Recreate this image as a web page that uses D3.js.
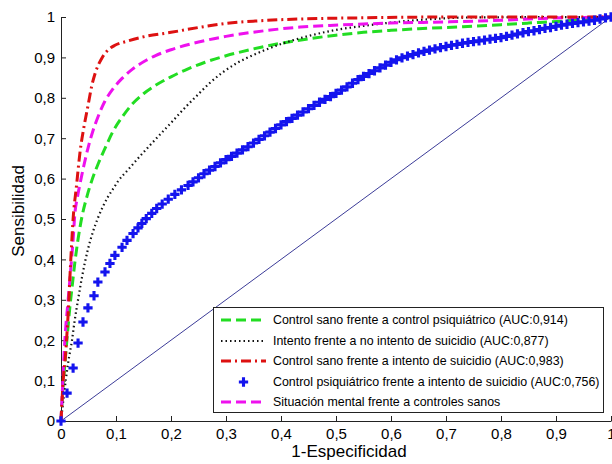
<!DOCTYPE html>
<html>
<head>
<meta charset="utf-8">
<script src="https://cdn.jsdelivr.net/npm/d3@7"></script>
<style>
  body { margin: 0; background: #fff; }
  svg { font-family: "Liberation Sans", Arial, Helvetica, sans-serif; }
  .axis path, .axis line { stroke: #222; stroke-width: 1; }
  .axis text { font-size: 15px; fill: #000; }
</style>
</head>
<body>
<div id="chart"></div>
<script>
// tick values
var xTicks = [0, 0.1, 0.2, 0.3, 0.4, 0.5, 0.6, 0.7, 0.8, 0.9, 1];
var yTicks = [0, 0.1, 0.2, 0.3, 0.4, 0.5, 0.6, 0.7, 0.8, 0.9, 1];

// curves: [1-especificidad, sensibilidad]
var greenPts = [[0,0],[0.003,0.07],[0.007,0.14],[0.012,0.22],[0.016,0.28],[0.02,0.33],[0.025,0.39],[0.031,0.45],
  [0.038,0.505],[0.047,0.555],[0.056,0.595],[0.068,0.638],[0.08,0.675],[0.095,0.718],[0.111,0.752],[0.13,0.785],
  [0.15,0.81],[0.171,0.83],[0.2,0.852],[0.23,0.871],[0.262,0.888],[0.3,0.904],[0.35,0.921],[0.4,0.935],
  [0.45,0.946],[0.5,0.955],[0.55,0.962],[0.6,0.967],[0.65,0.971],[0.731,0.976],[0.8,0.981],[0.85,0.985],
  [0.913,0.99],[0.96,0.996],[1,1]];

var blackPts = [[0,0],[0.005,0.06],[0.013,0.144],[0.02,0.2],[0.025,0.25],[0.031,0.3],[0.038,0.355],[0.049,0.425],
  [0.058,0.468],[0.067,0.502],[0.076,0.53],[0.085,0.554],[0.095,0.575],[0.104,0.594],[0.122,0.622],[0.14,0.65],
  [0.158,0.677],[0.18,0.709],[0.202,0.741],[0.225,0.775],[0.249,0.808],[0.27,0.836],[0.293,0.862],[0.32,0.886],
  [0.353,0.908],[0.4,0.933],[0.45,0.953],[0.5,0.968],[0.556,0.979],[0.62,0.989],[0.676,0.995],[0.75,0.999],[1,1]];

var redPts = [[0,0],[0.004,0.1],[0.008,0.16],[0.011,0.22],[0.014,0.29],[0.016,0.35],[0.019,0.43],[0.022,0.5],
  [0.028,0.58],[0.035,0.67],[0.042,0.73],[0.049,0.78],[0.056,0.83],[0.062,0.86],[0.075,0.9],[0.087,0.92],
  [0.098,0.93],[0.12,0.94],[0.147,0.95],[0.2,0.962],[0.25,0.974],[0.3,0.984],[0.353,0.99],[0.435,0.995],
  [0.55,0.998],[0.7,1],[1,1]];

var magentaPts = [[0,0],[0.002,0.06],[0.007,0.2],[0.013,0.3],[0.018,0.38],[0.022,0.448],[0.025,0.51],[0.03,0.555],
  [0.035,0.59],[0.042,0.635],[0.049,0.675],[0.058,0.718],[0.067,0.752],[0.08,0.792],[0.095,0.823],[0.111,0.848],
  [0.13,0.871],[0.155,0.893],[0.171,0.904],[0.2,0.919],[0.25,0.938],[0.3,0.952],[0.353,0.963],[0.435,0.975],
  [0.489,0.979],[0.6,0.985],[0.707,0.988],[0.8,0.992],[0.889,0.997],[0.95,0.999],[1,1]];

var bluePts = [[0,0],[0.011,0.069],[0.022,0.131],[0.031,0.193],[0.04,0.245],[0.049,0.28],[0.06,0.31],[0.067,0.344],
  [0.08,0.369],[0.089,0.39],[0.098,0.41],[0.111,0.43],[0.12,0.447],[0.131,0.464],[0.14,0.478],[0.147,0.489],
  [0.155,0.501],[0.165,0.514],[0.174,0.526],[0.184,0.537],[0.195,0.549],[0.207,0.561],[0.219,0.572],[0.231,0.583],
  [0.24,0.592],[0.25,0.602],[0.26,0.612],[0.27,0.621],[0.28,0.63],[0.29,0.639],[0.3,0.647],[0.31,0.655],
  [0.32,0.663],[0.33,0.671],[0.34,0.679],[0.35,0.688],[0.36,0.697],[0.37,0.706],[0.38,0.715],[0.39,0.724],
  [0.4,0.733],[0.41,0.741],[0.42,0.749],[0.43,0.757],[0.44,0.765],[0.45,0.773],[0.46,0.781],[0.47,0.789],
  [0.48,0.796],[0.49,0.803],[0.5,0.811],[0.51,0.819],[0.52,0.827],[0.53,0.836],[0.54,0.845],[0.55,0.853],
  [0.56,0.86],[0.57,0.867],[0.58,0.874],[0.59,0.881],[0.6,0.888],[0.61,0.894],[0.62,0.899],[0.63,0.903],
  [0.64,0.907],[0.65,0.911],[0.66,0.915],[0.67,0.918],[0.68,0.921],[0.69,0.924],[0.7,0.927],[0.71,0.93],
  [0.72,0.932],[0.73,0.935],[0.74,0.937],[0.75,0.939],[0.76,0.941],[0.77,0.943],[0.78,0.945],[0.79,0.947],
  [0.8,0.949],[0.81,0.952],[0.82,0.955],[0.83,0.958],[0.84,0.961],[0.85,0.964],[0.86,0.966],[0.87,0.969],
  [0.88,0.972],[0.89,0.974],[0.9,0.977],[0.91,0.98],[0.92,0.982],[0.93,0.984],[0.94,0.986],[0.95,0.988],
  [0.96,0.99],[0.97,0.992],[0.98,0.995],[0.99,0.998],[1,1]];

var diagPts = [[0,0],[1,1]];

var legendLabels = [
  "Control sano frente a control psiquiátrico (AUC:0,914)",
  "Intento frente a no intento de suicidio (AUC:0,877)",
  "Control sano frente a intento de suicidio (AUC:0,983)",
  "Control psiquiátrico frente a intento de suicidio (AUC:0,756)",
  "Situación mental frente a controles sanos"
];

var W = 612, H = 464;
var margin = {top: 17, right: 1, bottom: 43, left: 61};

var svg = d3.select("#chart").append("svg")
    .attr("width", W)
    .attr("height", H);

var x = d3.scaleLinear().domain([0, 1]).range([margin.left, W - margin.right]);
var y = d3.scaleLinear().domain([0, 1]).range([H - margin.bottom, margin.top]);

var fmt = function(d) { return String(d).replace(".", ","); };

// axes, ticks pointing inward
svg.append("g")
    .attr("class", "axis")
    .attr("transform", "translate(0," + y(0) + ")")
    .call(d3.axisBottom(x).tickValues(xTicks).tickFormat(fmt)
      .tickSizeInner(-5).tickSizeOuter(0).tickPadding(7));

svg.append("g")
    .attr("class", "axis")
    .attr("transform", "translate(" + x(0) + ",0)")
    .call(d3.axisLeft(y).tickValues(yTicks).tickFormat(fmt)
      .tickSizeInner(-5).tickSizeOuter(0).tickPadding(6));

var line = d3.line().x(function(d) { return x(d[0]); }).y(function(d) { return y(d[1]); });
var smooth = d3.line().x(function(d) { return x(d[0]); }).y(function(d) { return y(d[1]); })
    .curve(d3.curveMonotoneX);

// reference diagonal
svg.append("path")
    .datum(diagPts)
    .attr("d", line)
    .attr("fill", "none")
    .attr("stroke", "#3c3c98")
    .attr("stroke-width", 1);

var series = [
  {pts: greenPts, color: "#22dd22", width: 3, dash: "10,5"},
  {pts: blackPts, color: "#111", width: 2.2, dash: "1.5,3"},
  {pts: redPts, color: "#dd1111", width: 3, dash: "10,4,2,4"},
  {pts: magentaPts, color: "#ee11ee", width: 3, dash: "10,5"}
];

// draw order: green, black, magenta, red on top
[0, 1, 3, 2].forEach(function(i) {
  var s = series[i];
  svg.append("path")
      .datum(s.pts)
      .attr("d", smooth)
      .attr("fill", "none")
      .attr("stroke", s.color)
      .attr("stroke-width", s.width)
      .attr("stroke-dasharray", s.dash);
});

// blue crosses
var cross = d3.symbol().type(d3.symbolCross).size(48);
svg.append("g").selectAll("path")
    .data(bluePts)
    .enter().append("path")
    .attr("d", cross)
    .attr("transform", function(d) { return "translate(" + x(d[0]) + "," + y(d[1]) + ")"; })
    .attr("fill", "#1414ee");

// axis labels
svg.append("text")
    .attr("x", 349)
    .attr("y", 457)
    .attr("text-anchor", "middle")
    .attr("font-size", 17)
    .text("1-Especificidad");

svg.append("text")
    .attr("transform", "translate(24,211) rotate(-90)")
    .attr("text-anchor", "middle")
    .attr("font-size", 17)
    .text("Sensibilidad");

// legend
var lg = svg.append("g");
lg.append("rect")
    .attr("x", 213.5).attr("y", 307.5)
    .attr("width", 390).attr("height", 105)
    .attr("fill", "#fff")
    .attr("stroke", "#222")
    .attr("stroke-width", 1);

var rowY = [320, 341, 361, 382, 402];
var legendKeys = [series[0], series[1], series[2], null, series[3]];

legendKeys.forEach(function(s, i) {
  if (s) {
    lg.append("line")
        .attr("x1", 221).attr("x2", 266)
        .attr("y1", rowY[i]).attr("y2", rowY[i])
        .attr("stroke", s.color)
        .attr("stroke-width", s.width)
        .attr("stroke-dasharray", s.dash);
  } else {
    lg.append("path")
        .attr("d", cross)
        .attr("transform", "translate(243.5," + rowY[i] + ")")
        .attr("fill", "#1414ee");
  }
  lg.append("text")
      .attr("x", 273)
      .attr("y", rowY[i])
      .attr("dy", "0.35em")
      .attr("font-size", 12.4)
      .text(legendLabels[i]);
});
</script>
</body>
</html>
